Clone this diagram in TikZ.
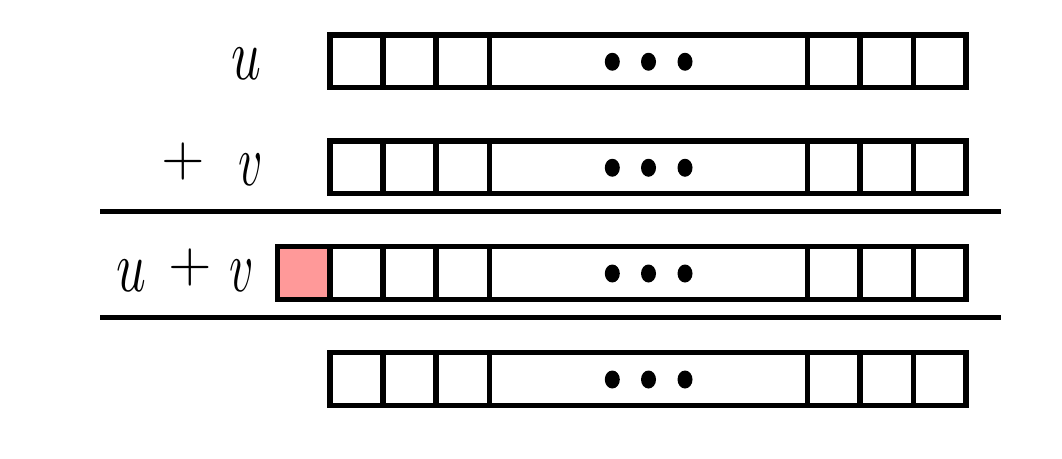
\documentclass[tikz,border=0pt]{standalone}
\definecolor{cellpink}{RGB}{255,153,153}
\newcommand{\bigplus}{\raisebox{9.3pt}{\scalebox{5.6}{$+$}}}
\newcommand{\bigu}{\scalebox{5.2}[7.3]{$u$}}
\newcommand{\bigv}{\scalebox{4.7}[7.3]{$v$}}
\begin{document}
\begin{tikzpicture}[x=1pt,y=-1pt,line width=5.3pt,
  lbl/.style={anchor=base east,inner sep=0pt},
  dot/.style={fill=black,draw=none}]
\useasboundingbox (0,0) rectangle (1062,458);
\foreach \t/\b/\n in {35/87.5/1,141/193.5/2,246.7/299.3/3,352.7/405.3/4}{
  \draw (330,\t) rectangle (966,\b);
  \foreach \xx in {383,436,489.3,807.3,860,913.3}
    \draw (\xx,\t) -- (\xx,\b);
  \foreach \dx in {612.3,648.5,685}
    \fill[dot] (\dx,{(\t+\b)/2+0.5}) ellipse (7.5pt and 9pt);
}
\filldraw[fill=cellpink] (277.5,246.7) rectangle (330,299.3);
\node[lbl] (lu) at (264,79) {\bigu};
\node[lbl] (lv) at (266,185) {\bigplus\hspace{34pt}\bigv};
\node[lbl] (luv) at (257,291) {\bigu\hspace{22pt}\bigplus\hspace{18pt}\bigv};
\draw (100,211.7) -- (1001,211.7);
\draw (100,317.7) -- (1001,317.7);
\end{tikzpicture}
\end{document}
